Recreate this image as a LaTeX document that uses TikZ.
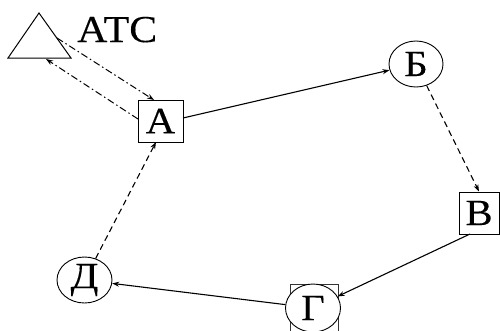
\documentclass[tikz,border=0pt]{standalone}
\usepackage{fontspec}
\setmainfont{Liberation Serif}[FakeStretch=1.1, FakeBold=0.25]
\usetikzlibrary{shapes.geometric,arrows.meta}
\begin{document}
\begin{tikzpicture}[x=1pt,y=-1pt,
  lbl/.style={font=\fontsize{37}{37}\selectfont, inner sep=0pt},
  boxn/.style={lbl, draw, line width=1pt, minimum width=45pt, minimum height=42pt},
  elln/.style={lbl, draw, ellipse, line width=0.9pt, fill=white, minimum width=54pt, minimum height=46pt},
  solidarr/.style={line width=1.1pt, -{Stealth[length=7pt,width=5pt]}},
  dasharr/.style={line width=1.1pt, dash pattern=on 6pt off 4pt, -{Stealth[length=7pt,width=5pt]}},
  dotdash/.style={line width=1pt, dash pattern=on 7pt off 3pt on 1.5pt off 3pt, -{Stealth[length=7pt,width=5pt]}}
]
\useasboundingbox (0,0) rectangle (500,330);
% triangle ATC
\coordinate (tT) at (39,13);
\coordinate (tL) at (8,58);
\coordinate (tR) at (71,58);
\draw[line width=1pt] (tT) -- (tL) -- (tR) -- cycle;
\coordinate (tOut) at (57,38);
\coordinate (tIn) at (46,59);
\node[lbl, anchor=base west, font=\fontsize{38}{38}\selectfont] (atc) at (77,42) {АТС};
% nodes
\node[boxn] (A) at (160.5,121) {А};
\node[elln] (B) at (416,64) {Б};
\node[boxn, minimum width=40pt] (V) at (479,213) {В};
\node[draw, line width=0.8pt, draw=black!80, minimum width=48pt, minimum height=56pt, inner sep=0pt] (Gsq) at (314,312) {};
\node[elln, minimum width=55pt, minimum height=48pt] (G) at (313,308) {Г};
\node[elln, minimum width=55pt] (D) at (84.5,280) {Д};
% anchor points
\coordinate (Aright) at (183,118);
\coordinate (Atop) at (154,100);
\coordinate (Aleft) at (138,119);
\coordinate (Abot) at (156,142);
\coordinate (Vbot) at (470,234);
% connectors
\draw[solidarr] (Aright) -- (B);
\draw[dasharr] (B) -- (V.north);
\draw[solidarr] (Vbot) -- (G);
\draw[solidarr] (G) -- (D);
\draw[dasharr] (D) -- (Abot);
\draw[dotdash] (tOut) -- (Atop);
\draw[dotdash] (Aleft) -- (tIn);
\end{tikzpicture}
\end{document}
